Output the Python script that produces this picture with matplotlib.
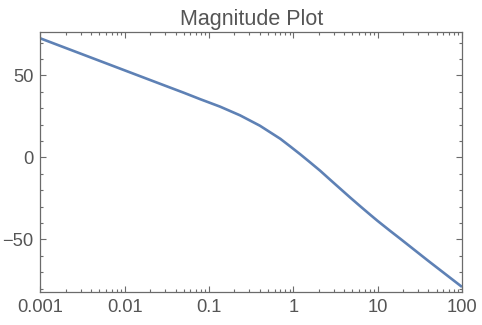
import matplotlib
matplotlib.use('Agg')
import matplotlib.pyplot as plt
from matplotlib.ticker import MultipleLocator, LogLocator, NullFormatter

# values
freq = [0.001, 0.003, 0.01, 0.03, 0.05, 0.078, 0.135, 0.233, 0.40, 0.70, 0.92,
        1.21, 1.59, 2.07, 2.75, 3.61, 4.74, 6.3, 8.2, 10, 14.1, 18.6, 40, 100]
mag_db = [72.5, 63.2, 53.0, 43.7, 39.4, 35.5, 30.9, 25.6, 19.3, 11.3, 6.6,
          1.8, -3.2, -8.1, -13.8, -19.2, -24.6, -30.1, -35.1, -38.8, -44.9,
          -49.7, -63.2, -79.0]
xticks = [0.001, 0.01, 0.1, 1, 10, 100]
xlabels = ['0.001', '0.01', '0.1', '1', '10', '100']
yticks = [-50, 0, 50]
ylabels = ['\u221250', '0', '50']

plt.rcParams['font.family'] = ['Liberation Sans', 'DejaVu Sans']

fig = plt.figure(figsize=(4.82, 3.25), dpi=100)
ax = fig.add_axes([0.084, 0.1015, 0.8745, 0.8])

ax.plot(freq, mag_db, color='#5E81B5', lw=1.9, solid_capstyle='butt',
        solid_joinstyle='round')

ax.set_xscale('log')
ax.set_xlim(0.001, 100)
ax.set_ylim(-82.1, 76.4)

ax.set_xticks(xticks)
ax.set_xticklabels(xlabels)
ax.xaxis.set_minor_locator(LogLocator(base=10, subs=range(2, 10)))
ax.xaxis.set_minor_formatter(NullFormatter())
ax.set_yticks(yticks)
ax.set_yticklabels(ylabels)
ax.yaxis.set_minor_locator(MultipleLocator(10))

frame = '#6b6b6b'
for s in ax.spines.values():
    s.set_color(frame)
    s.set_linewidth(0.9)
ax.tick_params(which='both', direction='in', top=True, right=True,
               color=frame, width=0.8)
ax.tick_params(which='major', length=4.5, labelsize=13.2, labelcolor='#555555', pad=5)
ax.tick_params(which='minor', length=2.5)

ax.set_title('Magnitude Plot', fontsize=15.5, color='#555555', pad=5)

fig.savefig('out.png', dpi=100)
